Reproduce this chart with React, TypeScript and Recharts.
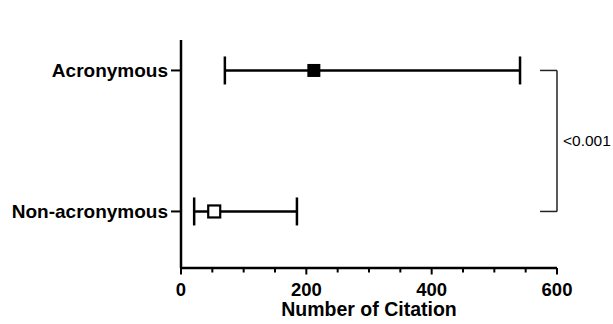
import React from 'react';
import { ScatterChart, Scatter, XAxis, YAxis, ErrorBar, ReferenceLine } from 'recharts';

const categories = ['Acronymous', 'Non-acronymous'];
const medians = [212, 53];
const lows = [70, 21];
const highs = [541, 185];
const positions = [1, 0];
const xTicks = [0, 50, 100, 150, 200, 250, 300, 350, 400, 450, 500, 550, 600];
const pLabel = '<0.001';
const bracketStart = 573;
const bracketEnd = 600;

const FONT = '"Liberation Sans", Arial, Helvetica, sans-serif';

const data = categories.map((name, i) => ({
  name,
  pos: positions[i],
  median: medians[i],
  err: [medians[i] - lows[i], highs[i] - medians[i]],
  filled: i === 0,
}));

const TICK_SIZE = 6;
const TICK_MARGIN = 0;

const XTick = (props: any) => {
  const { x, y, payload } = props;
  const axisY = y - TICK_SIZE - TICK_MARGIN;
  const v = payload.value;
  const major = v % 200 === 0;
  return (
    <g>
      <line x1={x} x2={x} y1={axisY} y2={axisY + (major ? 6.5 : 4.5)} stroke="#000" strokeWidth={2} />
      {major && (
        <text x={x} y={axisY + 27.5} textAnchor="middle" fontFamily={FONT} fontWeight="bold" fontSize={18.5} fill="#000">
          {v}
        </text>
      )}
    </g>
  );
};

const Marker = (props: any) => {
  const { cx, cy, payload } = props;
  if (cx == null || cy == null) return <g />;
  if (payload.filled) {
    return <rect x={cx - 6.5} y={cy - 6.5} width={13} height={13} fill="#000" />;
  }
  return <rect x={cx - 6} y={cy - 6} width={12} height={12} fill="#fff" stroke="#000" strokeWidth={2.2} />;
};

export default function App() {
  return (
    <div style={{ position: 'absolute', left: 0, top: 0, background: '#fff' }}>
      <ScatterChart width={613} height={324} margin={{ top: 40, right: 56, bottom: 0, left: 0 }}>
        <XAxis
          type="number"
          dataKey="median"
          domain={[0, 600]}
          ticks={xTicks}
          interval={0}
          tickSize={TICK_SIZE}
          tickMargin={TICK_MARGIN}
          tickLine={false}
          tick={<XTick />}
          height={56}
          axisLine={{ stroke: '#000', strokeWidth: 2.5 }}
          label={{ value: 'Number of Citation', position: 'insideBottom', offset: 8.5, fill: '#000', fontSize: 19.5, fontWeight: 'bold', fontFamily: FONT }}
        />
        <YAxis
          type="number"
          dataKey="pos"
          domain={[-0.401, 1.216]}
          ticks={[0, 1]}
          interval={0}
          allowDataOverflow
          width={181}
          tickSize={10}
          tickMargin={3}
          tickFormatter={(v: number) => categories[positions.indexOf(v)]}
          tick={{ fill: '#000', fontSize: 19, fontWeight: 'bold', fontFamily: FONT }}
          tickLine={{ stroke: '#000', strokeWidth: 2 }}
          axisLine={{ stroke: '#000', strokeWidth: 2.5 }}
        />
        <Scatter data={data} isAnimationActive={false} shape={() => <g />} legendType="none">
          <ErrorBar dataKey="err" direction="x" width={14} strokeWidth={2.5} stroke="#000" />
        </Scatter>
        <Scatter data={data} isAnimationActive={false} shape={<Marker />} legendType="none" />
        <ReferenceLine segment={[{ x: bracketStart, y: 1 }, { x: bracketEnd, y: 1 }]} stroke="#222" strokeWidth={1.5} ifOverflow="visible" />
        <ReferenceLine segment={[{ x: bracketStart, y: 0 }, { x: bracketEnd, y: 0 }]} stroke="#222" strokeWidth={1.5} ifOverflow="visible" />
        <ReferenceLine
          segment={[{ x: bracketEnd, y: 1 }, { x: bracketEnd, y: 0 }]}
          stroke="#222"
          strokeWidth={1.5}
          ifOverflow="visible"
          label={{ value: pLabel, position: 'right', offset: 6, fill: '#000', fontSize: 15.5, fontFamily: FONT }}
        />
      </ScatterChart>
    </div>
  );
}
